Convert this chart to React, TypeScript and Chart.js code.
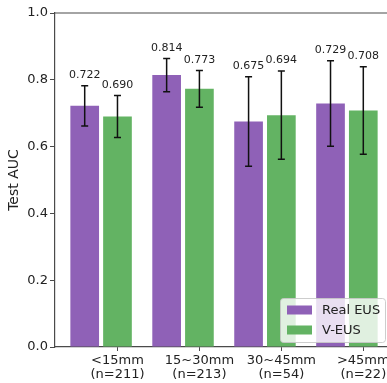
import React, { useEffect, useRef } from "react";
import { Chart, registerables } from "chart.js";

Chart.register(...registerables);

// ---- data ----
const categories: string[][] = [
  ["<15mm", "(n=211)"],
  ["15~30mm", "(n=213)"],
  ["30~45mm", "(n=54)"],
  [">45mm", "(n=22)"],
];
const seriesNames = ["Real EUS", "V-EUS"];
const realAUC = [0.722, 0.814, 0.675, 0.729];
const veusAUC = [0.69, 0.773, 0.694, 0.708];
const realErr = [0.06, 0.05, 0.134, 0.128];
const veusErr = [0.063, 0.055, 0.132, 0.131];
const yTicks = [0.0, 0.2, 0.4, 0.6, 0.8, 1.0];

const FONT = "'DejaVu Sans', sans-serif";
const PURPLE = "rgb(143,97,183)";
const GREEN = "rgb(99,179,99)";
const AXIS = "#4a4a4a";
const TICK_SHIFT = 0.2;

const errPlugin = {
  id: "errBars",
  afterDatasetsDraw(chart: any) {
    const ctx = chart.ctx;
    const ys = chart.scales.y;
    const errs = [realErr, veusErr];
    chart.data.datasets.forEach((ds: any, di: number) => {
      const meta = chart.getDatasetMeta(di);
      meta.data.forEach((el: any, i: number) => {
        const v = ds.data[i].y;
        const e = errs[di][i];
        const top = ys.getPixelForValue(v + e);
        const bot = ys.getPixelForValue(v - e);
        const x = el.x;
        ctx.save();
        ctx.strokeStyle = "#111";
        ctx.lineWidth = 1.5;
        ctx.beginPath();
        ctx.moveTo(x, top);
        ctx.lineTo(x, bot);
        ctx.moveTo(x - 3.5, top);
        ctx.lineTo(x + 3.5, top);
        ctx.moveTo(x - 3.5, bot);
        ctx.lineTo(x + 3.5, bot);
        ctx.stroke();
        ctx.fillStyle = "#222";
        ctx.font = `11px ${FONT}`;
        ctx.textAlign = "center";
        ctx.textBaseline = "middle";
        ctx.fillText(v.toFixed(3), x, top - 10.5);
        ctx.restore();
      });
    });
  },
};

const framePlugin = {
  id: "frame",
  afterDraw(chart: any) {
    const { ctx, chartArea } = chart;
    ctx.save();
    ctx.strokeStyle = AXIS;
    ctx.lineWidth = 1.2;
    ctx.beginPath();
    ctx.moveTo(chartArea.left, chartArea.top);
    ctx.lineTo(chartArea.right, chartArea.top);
    ctx.lineTo(chartArea.right, chartArea.bottom);
    ctx.stroke();

    // legend (lower right, inside the axes)
    const w = 105;
    const h = 44;
    const x0 = chartArea.right - 8 - w;
    const y0 = chartArea.bottom - 5 - h;
    ctx.fillStyle = "rgba(255,255,255,0.8)";
    ctx.strokeStyle = "rgba(200,200,200,0.9)";
    ctx.lineWidth = 1;
    ctx.beginPath();
    (ctx as any).roundRect(x0 + 0.5, y0 + 0.5, w, h, 3);
    ctx.fill();
    ctx.stroke();
    chart.data.datasets.forEach((ds: any, i: number) => {
      const cy = y0 + 12 + i * 20;
      ctx.fillStyle = ds.backgroundColor;
      ctx.fillRect(x0 + 7, cy - 4.5, 25, 9);
      ctx.fillStyle = "#222";
      ctx.font = `13px ${FONT}`;
      ctx.textAlign = "left";
      ctx.textBaseline = "middle";
      ctx.fillText(ds.label, x0 + 42, cy + 0.5);
    });
    ctx.restore();
  },
};

export default function App() {
  const ref = useRef<HTMLCanvasElement | null>(null);
  useEffect(() => {
    if (!ref.current) return;
    const mk = (vals: number[]) => vals.map((y, i) => ({ x: i, y }));
    const chart = new Chart(ref.current, {
      type: "bar",
      data: {
        datasets: [
          {
            label: seriesNames[0],
            data: mk(realAUC),
            backgroundColor: PURPLE,
            borderWidth: 0,
            categoryPercentage: 0.8,
            barPercentage: 0.875,
          },
          {
            label: seriesNames[1],
            data: mk(veusAUC),
            backgroundColor: GREEN,
            borderWidth: 0,
            categoryPercentage: 0.8,
            barPercentage: 0.875,
          },
        ],
      } as any,
      options: {
        animation: false,
        responsive: false,
        maintainAspectRatio: false,
        devicePixelRatio: 1,
        layout: { padding: { top: 13, right: 7, bottom: 0, left: 0 } },
        plugins: { legend: { display: false }, tooltip: { enabled: false } },
        scales: {
          x: {
            type: "linear",
            min: -0.5625,
            max: 3.5625,
            offset: false,
            afterBuildTicks: (s: any) => {
              s.ticks = categories.map((_, i) => ({ value: i + TICK_SHIFT }));
            },
            ticks: {
              autoSkip: false,
              maxRotation: 0,
              padding: 2,
              color: "#222",
              font: { family: FONT, size: 13, lineHeight: 1.1 },
              callback: (_v: any, i: number) => categories[i],
            },
            grid: { drawOnChartArea: false, tickLength: 4, tickColor: AXIS, offset: false },
            border: { color: AXIS, width: 1.2 },
            afterFit: (s: any) => {
              s.height = 36;
            },
          } as any,
          y: {
            min: 0,
            max: 1,
            afterBuildTicks: (s: any) => {
              s.ticks = yTicks.map((v) => ({ value: v }));
            },
            ticks: {
              padding: 2,
              color: "#222",
              font: { family: FONT, size: 13 },
              callback: (v: any) => Number(v).toFixed(1),
            },
            grid: { drawOnChartArea: false, tickLength: 5, tickColor: AXIS },
            border: { color: AXIS, width: 1.2 },
            title: {
              display: true,
              text: "Test AUC",
              color: "#222",
              font: { family: FONT, size: 14 },
              padding: { top: 6, bottom: 0 },
            },
            afterFit: (s: any) => {
              s.width = 55;
            },
          } as any,
        },
      },
      plugins: [errPlugin, framePlugin],
    });
    return () => chart.destroy();
  }, []);

  return (
    <div
      style={{
        position: "fixed",
        left: 0,
        top: 0,
        width: 387,
        height: 383,
        overflow: "hidden",
        background: "#fff",
      }}
    >
      <canvas ref={ref} width={400} height={383} style={{ display: "block" }} />
    </div>
  );
}
